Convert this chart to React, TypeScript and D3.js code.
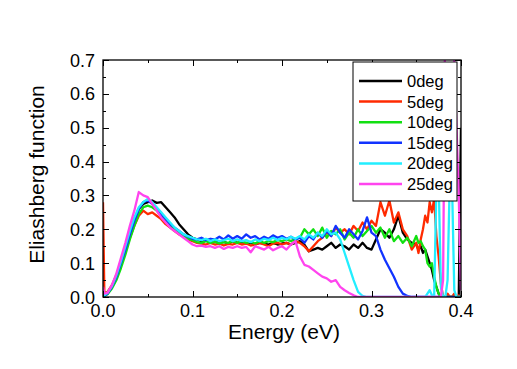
import React from "react";
import { scaleLinear, line, range } from "d3";

// energy grid (eV): finer steps near the noisy tail
const energies = [
  0, 0.0015,
  0.005, 0.01, 0.015, 0.02, 0.025, 0.03, 0.035, 0.04, 0.045, 0.05,
  0.055, 0.06, 0.065, 0.07, 0.075, 0.08, 0.085, 0.09, 0.095, 0.1,
  0.105, 0.11, 0.115, 0.12, 0.125, 0.13, 0.135, 0.14, 0.145, 0.15,
  0.155, 0.16, 0.165, 0.17, 0.175, 0.18, 0.185, 0.19, 0.195, 0.2,
  0.205, 0.21, 0.215, 0.22, 0.225, 0.23, 0.235, 0.24, 0.245, 0.25,
  0.255, 0.26, 0.265, 0.27, 0.275, 0.28, 0.285, 0.29, 0.295, 0.3,
  0.305, 0.31, 0.315, 0.32, 0.325, 0.33, 0.335, 0.34, 0.345, 0.35,
  0.3525, 0.355, 0.3575, 0.36, 0.3625, 0.365, 0.3675, 0.37, 0.3725, 0.375,
  0.3775, 0.38, 0.3825, 0.385, 0.3875, 0.39, 0.3925, 0.395, 0.3975, 0.4,
];

const deg0 = [
  0, 0.005,
  0.01, 0.03, 0.06, 0.1, 0.14, 0.185, 0.225, 0.26, 0.275, 0.28,
  0.285, 0.278, 0.28, 0.265, 0.25, 0.235, 0.215, 0.2, 0.185, 0.175,
  0.17, 0.165, 0.168, 0.162, 0.165, 0.16, 0.163, 0.158, 0.165, 0.16,
  0.162, 0.158, 0.16, 0.155, 0.16, 0.158, 0.155, 0.16, 0.155, 0.158,
  0.16, 0.155, 0.16, 0.165, 0.155, 0.135, 0.14, 0.145, 0.14, 0.15,
  0.16, 0.145, 0.155, 0.15, 0.14, 0.155, 0.145, 0.16, 0.145, 0.14,
  0.17, 0.2, 0.19, 0.175, 0.2, 0.24, 0.19, 0.17, 0.16, 0.155,
  0.14, 0.15, 0.13, 0.14, 0.12, 0.1, 0.08, 0.05, 0.03, 0.01,
  0, 0, 0, 0, 0, 0, 0, 0, 0, 0.5,
];

const deg5 = [
  0.28, 0.01,
  0.015, 0.035, 0.065, 0.1, 0.135, 0.175, 0.21, 0.24, 0.255, 0.245,
  0.25, 0.24, 0.23, 0.215, 0.205, 0.195, 0.185, 0.178, 0.17, 0.165,
  0.16, 0.158, 0.155, 0.16, 0.155, 0.158, 0.152, 0.157, 0.155, 0.16,
  0.155, 0.158, 0.152, 0.155, 0.16, 0.155, 0.15, 0.158, 0.16, 0.155,
  0.16, 0.155, 0.165, 0.16, 0.15, 0.135, 0.15, 0.165, 0.175, 0.19,
  0.18, 0.205, 0.19, 0.2, 0.185, 0.21, 0.195, 0.22, 0.2, 0.225,
  0.21, 0.28, 0.24, 0.285, 0.22, 0.25, 0.2, 0.18, 0.14, 0.16,
  0.13, 0.17, 0.2, 0.24, 0.22, 0.28, 0.25, 0.29, 0.18, 0.12,
  0.04, 0, 0, 0.01, 0, 0, 0.01, 0, 0.005, 0,
];

const deg10 = [
  0, 0.003,
  0.008, 0.025, 0.05, 0.085, 0.125, 0.17, 0.21, 0.245, 0.265, 0.27,
  0.265, 0.255, 0.24, 0.225, 0.21, 0.2, 0.19, 0.18, 0.172, 0.168,
  0.162, 0.16, 0.165, 0.16, 0.163, 0.158, 0.162, 0.16, 0.165, 0.16,
  0.165, 0.16, 0.163, 0.158, 0.165, 0.16, 0.165, 0.162, 0.168, 0.165,
  0.17, 0.165, 0.172, 0.175, 0.2, 0.185, 0.2, 0.18, 0.205, 0.175,
  0.195, 0.185, 0.2, 0.17, 0.19, 0.175, 0.2, 0.18, 0.195, 0.21,
  0.19, 0.205, 0.175, 0.2, 0.165, 0.18, 0.16, 0.175, 0.15, 0.18,
  0.16, 0.165, 0.15, 0.14, 0.1, 0.09, 0.1, 0.06, 0.03, 0.01,
  0, 0, 0, 0, 0, 0, 0, 0, 0, 0,
];

const deg15 = [
  0, 0.003,
  0.01, 0.03, 0.06, 0.1, 0.14, 0.185, 0.225, 0.26, 0.28, 0.285,
  0.275, 0.26, 0.245, 0.23, 0.215, 0.205, 0.195, 0.185, 0.178, 0.172,
  0.17, 0.175, 0.168, 0.172, 0.17, 0.178, 0.17, 0.182, 0.172, 0.18,
  0.172, 0.185, 0.175, 0.18, 0.17, 0.178, 0.172, 0.182, 0.175, 0.18,
  0.172, 0.178, 0.17, 0.175, 0.16, 0.18, 0.17, 0.19, 0.175, 0.195,
  0.18, 0.21, 0.19, 0.175, 0.2, 0.185, 0.17, 0.195, 0.235, 0.19,
  0.18, 0.14, 0.11, 0.085, 0.06, 0.03, 0.01, 0.003, 0, 0,
  0, 0, 0, 0, 0, 0, 0, 0, 0, 0,
  0, 0, 0, 0, 0, 0, 0, 0, 0, 0,
];

const deg20 = [
  0, 0.005,
  0.012, 0.032, 0.065, 0.105, 0.15, 0.195, 0.235, 0.265, 0.28, 0.29,
  0.28, 0.265, 0.25, 0.235, 0.22, 0.205, 0.195, 0.185, 0.18, 0.175,
  0.17, 0.168, 0.172, 0.165, 0.17, 0.165, 0.168, 0.172, 0.165, 0.17,
  0.165, 0.168, 0.162, 0.17, 0.165, 0.172, 0.168, 0.175, 0.168, 0.175,
  0.17, 0.178, 0.172, 0.18, 0.17, 0.185, 0.175, 0.19, 0.18, 0.2,
  0.185, 0.19, 0.17, 0.13, 0.09, 0.05, 0.015, 0.003, 0, 0,
  0, 0, 0, 0, 0, 0, 0, 0, 0, 0,
  0, 0, 0, 0, 0.01, 0.02, 0.005, 0, 0.32, 0.35,
  0.03, 0, 0, 0.05, 0.35, 0.33, 0.02, 0, 0, 0,
];

const deg25 = [
  0.03, 0.01,
  0.012, 0.035, 0.07, 0.115, 0.16, 0.21, 0.255, 0.31, 0.3, 0.295,
  0.275, 0.255, 0.235, 0.22, 0.205, 0.195, 0.185, 0.175, 0.165, 0.155,
  0.15, 0.152, 0.148, 0.15, 0.145, 0.15, 0.142, 0.148, 0.145, 0.15,
  0.145, 0.148, 0.132, 0.15, 0.145, 0.14, 0.148, 0.138, 0.145, 0.15,
  0.14, 0.155, 0.165, 0.12, 0.095, 0.09, 0.08, 0.07, 0.06, 0.055,
  0.045, 0.05, 0.03, 0.02, 0.012, 0.005, 0, 0, 0, 0,
  0, 0, 0, 0, 0, 0, 0, 0, 0, 0,
  0, 0, 0, 0, 0, 0, 0, 0, 0, 0,
  0, 0.05, 0.9, 0.9, 0.9, 0.9, 0.7, 0.5, 0.3, 0.02,
];

const seriesNames = ["0deg", "5deg", "10deg", "15deg", "20deg", "25deg"];
const seriesValues = [deg0, deg5, deg10, deg15, deg20, deg25];
const seriesColors = ["#000000", "#ff2a00", "#11e011", "#1133ff", "#22eeff", "#ff44ee"];

const xTicks = [0, 0.1, 0.2, 0.3, 0.4];
const yTicks = [0, 0.1, 0.2, 0.3, 0.4, 0.5, 0.6, 0.7];

const W = 517;
const H = 369;
const left = 103;
const right = 461;
const top = 60;
const bottom = 297;
const font = "Arial, 'Liberation Sans', Helvetica, sans-serif";

export default function App() {
  const x = scaleLinear().domain([0, 0.4]).range([left, right]);
  const y = scaleLinear().domain([0, 0.7]).range([bottom, top]);

  const path = line<number>()
    .x((_, i) => x(energies[i]))
    .y((d) => y(d));

  const xMinor = range(0, 0.4001, 0.05);
  const yMinor = range(0, 0.7001, 0.05);

  // legend box
  const lg = { x: 353, y: 62, w: 104, h: 139, row: 20.6 };

  return (
    <svg
      width={W}
      height={H}
      style={{ position: "absolute", left: 0, top: 0, background: "#fff" }}
      fontFamily={font}
    >
      <defs>
        <clipPath id="plot">
          <rect x={left} y={top} width={right - left} height={bottom - top} />
        </clipPath>
      </defs>

      <g clipPath="url(#plot)" fill="none" strokeWidth={2.3} strokeLinejoin="round">
        {seriesValues.map((vals, i) => (
          <path key={seriesNames[i]} d={path(vals) || ""} stroke={seriesColors[i]} />
        ))}
      </g>

      {/* ticks, inward on all four sides */}
      <g stroke="#000" strokeWidth={1}>
        {xMinor.map((t, i) => {
          const len = i % 2 === 0 ? 6 : 3;
          const px = Math.round(x(t)) + 0.5;
          return (
            <g key={"xt" + i}>
              <line x1={px} x2={px} y1={bottom} y2={bottom - len} />
              <line x1={px} x2={px} y1={top} y2={top + len} />
            </g>
          );
        })}
        {yMinor.map((t, i) => {
          const len = i % 2 === 0 ? 6 : 3;
          const py = Math.round(y(t)) + 0.5;
          return (
            <g key={"yt" + i}>
              <line x1={left} x2={left + len} y1={py} y2={py} />
              <line x1={right} x2={right - len} y1={py} y2={py} />
            </g>
          );
        })}
      </g>
      <rect
        x={left}
        y={top}
        width={right - left}
        height={bottom - top}
        fill="none"
        stroke="#000"
        strokeWidth={1.3}
      />

      <g fontSize={18} fill="#000">
        {xTicks.map((t) => (
          <text key={"xl" + t} x={x(t)} y={bottom + 20} textAnchor="middle">
            {t.toFixed(1)}
          </text>
        ))}
        {yTicks.map((t) => (
          <text key={"yl" + t} x={left - 8} y={y(t) + 6.5} textAnchor="end">
            {t.toFixed(1)}
          </text>
        ))}
      </g>

      <text x={(left + right) / 2 + 2} y={339} textAnchor="middle" fontSize={21}>
        Energy (eV)
      </text>
      <text
        transform={`translate(44, ${(top + bottom) / 2 - 4}) rotate(-90)`}
        textAnchor="middle"
        fontSize={21}
      >
        Eliashberg function
      </text>

      <g>
        <rect x={lg.x} y={lg.y} width={lg.w} height={lg.h} fill="#fff" stroke="#000" strokeWidth={1} />
        {seriesNames.map((name, i) => {
          const ly = lg.y + 19 + i * lg.row;
          return (
            <g key={"lg" + name}>
              <line x1={lg.x + 6} x2={lg.x + 49} y1={ly} y2={ly} stroke={seriesColors[i]} strokeWidth={2.5} />
              <text x={lg.x + 54} y={ly + 6} fontSize={16.5}>
                {name}
              </text>
            </g>
          );
        })}
      </g>
    </svg>
  );
}
